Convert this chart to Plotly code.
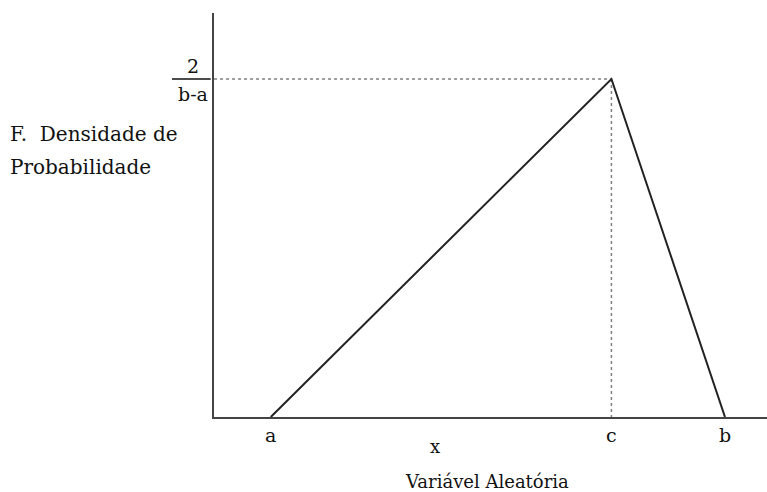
import plotly.graph_objects as go

# Triangular distribution parameters
a, c, b = 1.0, 7.0, 9.0
peak = 2.0 / (b - a)

tri_x = [a, c, b]
tri_y = [0.0, peak, 0.0]

tick_vals = [a, c, b]
tick_text = ["a", "c", "b"]

x_max = 9.74
y_max = 0.2988

font_family = "DejaVu Serif"
ink = "#111111"

fig = go.Figure()

# Dotted guides to the peak
guide = dict(color="#808080", width=1.5, dash="dot")
fig.add_trace(go.Scatter(x=[0, c], y=[peak, peak], mode="lines",
                         line=guide, hoverinfo="skip"))
fig.add_trace(go.Scatter(x=[c, c], y=[peak, 0], mode="lines",
                         line=guide, hoverinfo="skip"))

# Density curve
fig.add_trace(go.Scatter(x=tri_x, y=tri_y, mode="lines",
                         line=dict(color="#222222", width=2),
                         hoverinfo="skip"))

# Fraction label 2/(b-a) beside the y axis, level with the peak
frac_x = -0.038
fig.add_annotation(x=frac_x, y=peak, xref="paper", yref="y", text="2",
                   showarrow=False, yshift=13, xanchor="center", yanchor="middle",
                   font=dict(family=font_family, size=19, color=ink))
fig.add_annotation(x=frac_x, y=peak, xref="paper", yref="y", text="b-a",
                   showarrow=False, yshift=-15, xanchor="center", yanchor="middle",
                   font=dict(family=font_family, size=19, color=ink))
fig.add_shape(type="line", xref="paper", yref="y", x0=-0.076, x1=-0.006,
              y0=peak, y1=peak, line=dict(color=ink, width=1.5))

# Axis titles
fig.add_annotation(x=3.9, y=0, xref="x", yref="y", text="x", showarrow=False,
                   yshift=-29, xanchor="center", yanchor="middle",
                   font=dict(family=font_family, size=18, color=ink))
fig.add_annotation(x=4.8, y=0, xref="x", yref="y", text="Variável Aleatória",
                   showarrow=False, yshift=-64, xanchor="center", yanchor="middle",
                   font=dict(family=font_family, size=18, color=ink))
fig.add_annotation(x=0, y=1, xref="paper", yref="paper",
                   text="F.&nbsp;&nbsp;Densidade de", showarrow=False,
                   xshift=-206, yshift=-(134 - 13), xanchor="left", yanchor="middle",
                   font=dict(family=font_family, size=20, color=ink))
fig.add_annotation(x=0, y=1, xref="paper", yref="paper",
                   text="Probabilidade", showarrow=False,
                   xshift=-206, yshift=-(167 - 13), xanchor="left", yanchor="middle",
                   font=dict(family=font_family, size=20, color=ink))

fig.update_layout(
    width=767, height=492,
    margin=dict(l=214, r=0, t=13, b=75),
    paper_bgcolor="white", plot_bgcolor="white",
    showlegend=False,
    xaxis=dict(range=[0, x_max], showgrid=False, zeroline=False,
               showline=True, linecolor="#444444", linewidth=2,
               tickvals=tick_vals, ticktext=tick_text, ticks="",
               tickfont=dict(family=font_family, size=19, color=ink)),
    yaxis=dict(range=[0, y_max], showgrid=False, zeroline=False,
               showline=True, linecolor="#444444", linewidth=2,
               showticklabels=False, ticks=""),
)

fig.write_html("out.html")
